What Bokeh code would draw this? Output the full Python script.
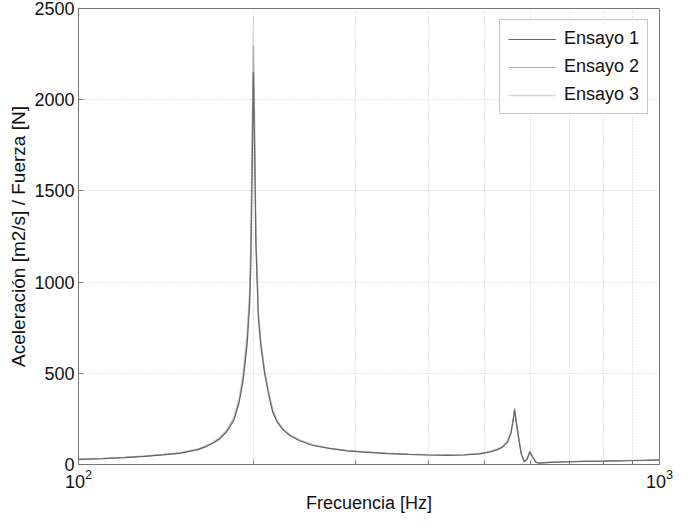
from bokeh.plotting import figure
from bokeh.embed import file_html
from bokeh.resources import INLINE
from bokeh.models import Range1d, FixedTicker, Legend, LegendItem, LogTickFormatter

freq = [100, 110, 120, 130, 140, 150, 160, 165, 170, 175, 180, 185, 189, 192, 195, 197, 198, 199, 200, 201, 202, 204, 206, 209, 212, 216, 220, 225, 231, 240, 253, 270, 290, 310, 340, 370, 400, 430, 460, 490, 510, 525, 537, 547, 555, 560, 563, 567, 572, 578, 585, 592, 598, 605, 613, 620, 650, 700, 750, 800, 850, 900, 950, 1000]

ensayo1 = [28, 32, 38, 45, 53, 62, 80, 95, 115, 140, 180, 240, 340, 460, 650, 870, 1100, 1600, 2150, 1700, 1200, 800, 650, 504, 400, 285, 230, 190, 159, 130, 104, 88, 75, 68, 60, 55, 52, 50, 52, 58, 68, 80, 95, 120, 170, 240, 300, 230, 150, 60, 15, 30, 70, 40, 12, 8, 12, 15, 17, 18, 20, 22, 23, 25]
ensayo2 = [27, 33, 39, 46, 55, 64, 82, 98, 118, 145, 186, 250, 352, 480, 690, 920, 1200, 1750, 2300, 1800, 1250, 820, 665, 515, 405, 292, 235, 192, 162, 134, 107, 89, 76, 69, 61, 56, 53, 51, 53, 60, 70, 82, 98, 125, 178, 250, 310, 235, 152, 62, 16, 32, 72, 42, 13, 9, 13, 16, 18, 19, 21, 22, 24, 26]
ensayo3 = [29, 34, 40, 47, 56, 66, 85, 101, 122, 150, 192, 258, 365, 500, 720, 960, 1280, 1850, 2450, 1900, 1300, 850, 680, 525, 415, 300, 240, 196, 165, 137, 109, 91, 78, 70, 62, 57, 54, 52, 54, 61, 71, 84, 100, 128, 182, 255, 290, 220, 145, 58, 14, 28, 65, 38, 11, 8, 12, 15, 17, 19, 20, 22, 23, 25]

x_major = [100, 1000]
x_minor = [200, 300, 400, 500, 600, 700, 800, 900]
y_ticks = [0, 500, 1000, 1500, 2000, 2500]

series = [("Ensayo 1", ensayo1, "#666666", 1.2), ("Ensayo 2", ensayo2, "#b0b0b0", 1.2), ("Ensayo 3", ensayo3, "#d8d8d8", 1.3)]

FONT = "Liberation Sans"

p = figure(width=681, height=515, x_axis_type="log", output_backend="svg",
           toolbar_location=None, x_range=Range1d(100, 1000), y_range=Range1d(0, 2500),
           min_border_left=78, min_border_right=22, min_border_top=8, min_border_bottom=51,
           background_fill_color="white", border_fill_color="white")

items = []
for name, ys, col, lw in series[::-1]:
    r = p.line(freq, ys, line_color=col, line_width=lw)
    items.append((name, r))
items = items[::-1]

legend = Legend(items=[LegendItem(label=n, renderers=[r]) for n, r in items],
                location="top_right", label_text_font=FONT, label_text_font_size="18px",
                label_text_color="#111111", border_line_color="#8a8a8a", border_line_width=1,
                glyph_width=48, glyph_height=18, spacing=7, padding=8, margin=11,
                label_standoff=8, background_fill_alpha=1)
p.add_layout(legend)

p.xaxis.ticker = FixedTicker(ticks=x_major, minor_ticks=x_minor)
p.xaxis.formatter = LogTickFormatter()
p.yaxis.ticker = FixedTicker(ticks=y_ticks)

for ax in (p.xaxis, p.yaxis):
    ax.major_label_text_font = FONT
    ax.major_label_text_font_size = "18px"
    ax.major_label_text_color = "#111111"
    ax.axis_label_text_font = FONT
    ax.axis_label_text_font_size = "18px"
    ax.axis_label_text_font_style = "normal"
    ax.axis_label_text_color = "#111111"
    ax.axis_line_color = "#777777"
    ax.major_tick_line_color = "#777777"
    ax.minor_tick_line_color = "#777777"
    ax.major_tick_in = 5
    ax.major_tick_out = 0
    ax.minor_tick_in = 4
    ax.minor_tick_out = 0

p.yaxis.axis_label_text_font_size = "19px"
p.yaxis.minor_tick_line_color = None
p.yaxis.major_label_standoff = 4
p.xaxis.major_label_standoff = 4
p.xaxis.axis_label_standoff = 2
p.yaxis.axis_label_standoff = 2
p.xaxis.axis_label = "Frecuencia [Hz]"
p.yaxis.axis_label = "Aceleración [m2/s] / Fuerza [N]"

p.xgrid.grid_line_color = "#c8c8c8"
p.xgrid.grid_line_dash = "1 2"
p.xgrid.minor_grid_line_color = "#c8c8c8"
p.xgrid.minor_grid_line_dash = "1 2"
p.ygrid.grid_line_color = "#c8c8c8"
p.ygrid.grid_line_dash = "1 2"

p.outline_line_color = "#777777"
p.outline_line_width = 1

open("out.html", "w").write(file_html(p, INLINE))
